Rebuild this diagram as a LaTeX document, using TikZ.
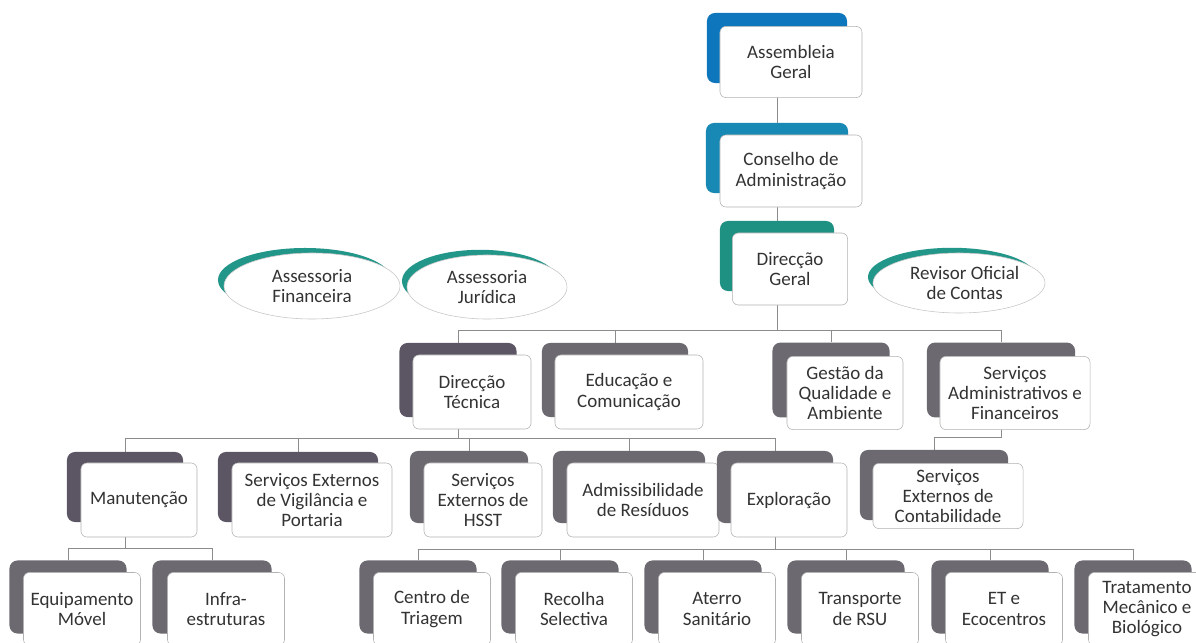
\documentclass[tikz,border=0pt]{standalone}
\usepackage{fontspec}
\setmainfont{Carlito}
\usetikzlibrary{shapes.geometric,backgrounds}
\definecolor{agblue}{HTML}{0E76BC}
\definecolor{cablue}{HTML}{1889B4}
\definecolor{dgteal}{HTML}{1F9183}
\definecolor{arcteal}{HTML}{23968A}
\definecolor{purpgray}{HTML}{5C5664}
\definecolor{boxgray}{HTML}{6C6970}
\definecolor{txtgray}{HTML}{333333}
\definecolor{linegray}{HTML}{8C8C8C}

\begin{document}
\begin{tikzpicture}[x=0.025cm, y=-0.025cm,
	back/.style={fill=#1, rounded corners=0.2cm, inner sep=0pt},
	front/.style={draw=gray!60, fill=white, rounded corners=0.15cm, inner sep=0pt, align=center,
		text=txtgray, font=\fontsize{13.5}{14.5}\selectfont},
	oval/.style={ellipse, draw=gray!45, fill=white, inner sep=0pt, align=center,
		text=txtgray, font=\fontsize{13.5}{14.5}\selectfont},
	link/.style={draw=linegray, thin}]
		\useasboundingbox (0,0) rectangle (1196,643);
		\clip (0,0) rectangle (1196,643);
		
		% Top of the chart
		\node[back=agblue, minimum width=3.5cm, minimum height=1.75cm] (ag-b) at (777,48) {};
		\node[front, minimum width=3.55cm, minimum height=1.78cm] (ag) at ([shift={(14,14)}]ag-b.center) {Assembleia\\Geral};
		\node[back=cablue, minimum width=3.55cm, minimum height=1.75cm] (ca-b) at (777,158) {};
		\node[front, minimum width=3.55cm, minimum height=1.8cm] (ca) at ([shift={(14,13)}]ca-b.center) {Conselho de\\Administração};
		\node[back=dgteal, minimum width=2.85cm, minimum height=1.75cm] (dg-b) at (777,256) {};
		\node[front, minimum width=2.88cm, minimum height=1.8cm] (dg) at ([shift={(13,13)}]dg-b.center) {Direcção\\Geral};
		
		% Advisory ovals
		\fill[arcteal] (305,280) ellipse [x radius=2.175cm, y radius=0.8cm];
		\node[oval, minimum width=4.4cm, minimum height=1.65cm] (af) at (312,286) {Assessoria\\Financeira};
		\fill[arcteal] (480,281) ellipse [x radius=1.95cm, y radius=0.78cm];
		\node[oval, minimum width=4.0cm, minimum height=1.6cm] (aj) at (487,287) {Assessoria\\Jurídica};
		\fill[arcteal] (952,277) ellipse [x radius=2.1cm, y radius=0.73cm];
		\node[oval, minimum width=4.3cm, minimum height=1.5cm] (ro) at (959,283) {\hspace*{0.6em}Revisor Oficial\\\hspace*{0.6em}de Contas};
		
		% Second level
		\node[back=purpgray, minimum width=2.925cm, minimum height=1.85cm] (dt-b) at (458,380) {};
		\node[front, minimum width=2.95cm, minimum height=1.85cm] (dt) at ([shift={(14,12)}]dt-b.center) {Direcção\\Técnica};
		\node[back=boxgray, minimum width=3.65cm, minimum height=1.85cm] (ec-b) at (615,380) {};
		\node[front, minimum width=3.7cm, minimum height=1.85cm] (ec) at ([shift={(14,12)}]ec-b.center) {Educação e\\Comunicação};
		\node[back=boxgray, minimum width=2.925cm, minimum height=1.87cm] (gq-b) at (831,380) {};
		\node[front, minimum width=2.9cm, minimum height=1.83cm] (gq) at ([shift={(14,13)}]gq-b.center) {Gestão da\\Qualidade e\\Ambiente};
		\node[back=boxgray, minimum width=3.7cm, minimum height=1.87cm] (sa-b) at (1001,380) {};
		\node[front, minimum width=3.75cm, minimum height=1.83cm] (sa) at ([shift={(14,13)}]sa-b.center) {Serviços\\Administrativos e\\Financeiros};
		
		% Third level
		\node[back=purpgray, minimum width=2.9cm, minimum height=1.75cm] (ma-b) at (125,487) {};
		\node[front, minimum width=2.9cm, minimum height=1.85cm] (ma) at ([shift={(14,13)}]ma-b.center) {Manutenção};
		\node[back=purpgray, minimum width=4.0cm, minimum height=1.75cm] (sv-b) at (298,487) {};
		\node[front, minimum width=4.0cm, minimum height=1.85cm] (sv) at ([shift={(14,13)}]sv-b.center) {Serviços Externos\\de Vigilância e\\Portaria};
		\node[back=boxgray, minimum width=2.95cm, minimum height=1.8cm] (hs-b) at (469,487) {};
		\node[front, minimum width=2.95cm, minimum height=1.85cm] (hs) at ([shift={(14,13)}]hs-b.center) {Serviços\\Externos de\\HSST};
		\node[back=boxgray, minimum width=3.8cm, minimum height=1.8cm] (ad-b) at (629,487) {};
		\node[front, minimum width=3.8cm, minimum height=1.85cm] (ad) at ([shift={(14,13)}]ad-b.center) {Admissibilidade\\de Resíduos};
		\node[back=boxgray, minimum width=2.9cm, minimum height=1.8cm] (ex-b) at (775,487) {};
		\node[front, minimum width=2.9cm, minimum height=1.85cm] (ex) at ([shift={(14,13)}]ex-b.center) {Exploração};
		\node[back=boxgray, minimum width=3.7cm, minimum height=1.75cm] (sc-b) at (934,485) {};
		\node[front, minimum width=3.75cm, minimum height=1.63cm] (sc) at ([shift={(14,11)}]sc-b.center) {Serviços\\Externos de\\Contabilidade};
		
		% Fourth level
		\node[back=boxgray, minimum width=2.925cm, minimum height=1.825cm] (eq-b) at (68,597) {};
		\node[front, minimum width=2.925cm, minimum height=1.825cm] (eq) at ([shift={(14,12)}]eq-b.center) {Equipamento\\Móvel};
		\node[back=boxgray, minimum width=2.975cm, minimum height=1.825cm] (in-b) at (212,597) {};
		\node[front, minimum width=2.925cm, minimum height=1.825cm] (in) at ([shift={(14,12)}]in-b.center) {Infra-\\estruturas};
		\foreach \nm/\xx/\txt in {ct/418/{Centro de\\Triagem}, rs/560/{Recolha\\Selectiva}, as/703/{Aterro\\Sanitário},
			tr/846/{Transporte\\de RSU}, et/990/{ET e\\Ecocentros}, tm/1133/{Tratamento\\Mecânico e\\Biológico}}
		{
			\node[back=boxgray, minimum width=2.925cm, minimum height=1.825cm] (\nm-b) at (\xx,597) {};
			\node[front, minimum width=2.925cm, minimum height=1.825cm] (\nm) at ([shift={(14,12)}]\nm-b.center) {\txt};
		}
		
		% Connectors
		\begin{pgfonlayer}{background}
			\draw[link] (ag-b.south) -- (ca-b.north);
			\draw[link] (ca-b.south) -- (dg-b.north);
			\foreach \nm in {dt,ec,gq,sa}
				\draw[link] (dg-b.south) -- ++(0,39) -| (\nm-b.north);
			\foreach \nm in {ma,sv,hs,ad,ex}
				\draw[link] (dt-b.south) -- ++(0,21) -| (\nm-b.north);
			\draw[link] (sa-b.south) -- ++(0,20) -| (sc-b.north);
			\foreach \nm in {eq,in}
				\draw[link] (ma-b.south) -- ++(0,26) -| (\nm-b.north);
			\foreach \nm in {ct,rs,as,tr,et,tm}
				\draw[link] (ex-b.south) -- ++(0,26) -| (\nm-b.north);
		\end{pgfonlayer}
	\end{tikzpicture}
\end{document}
